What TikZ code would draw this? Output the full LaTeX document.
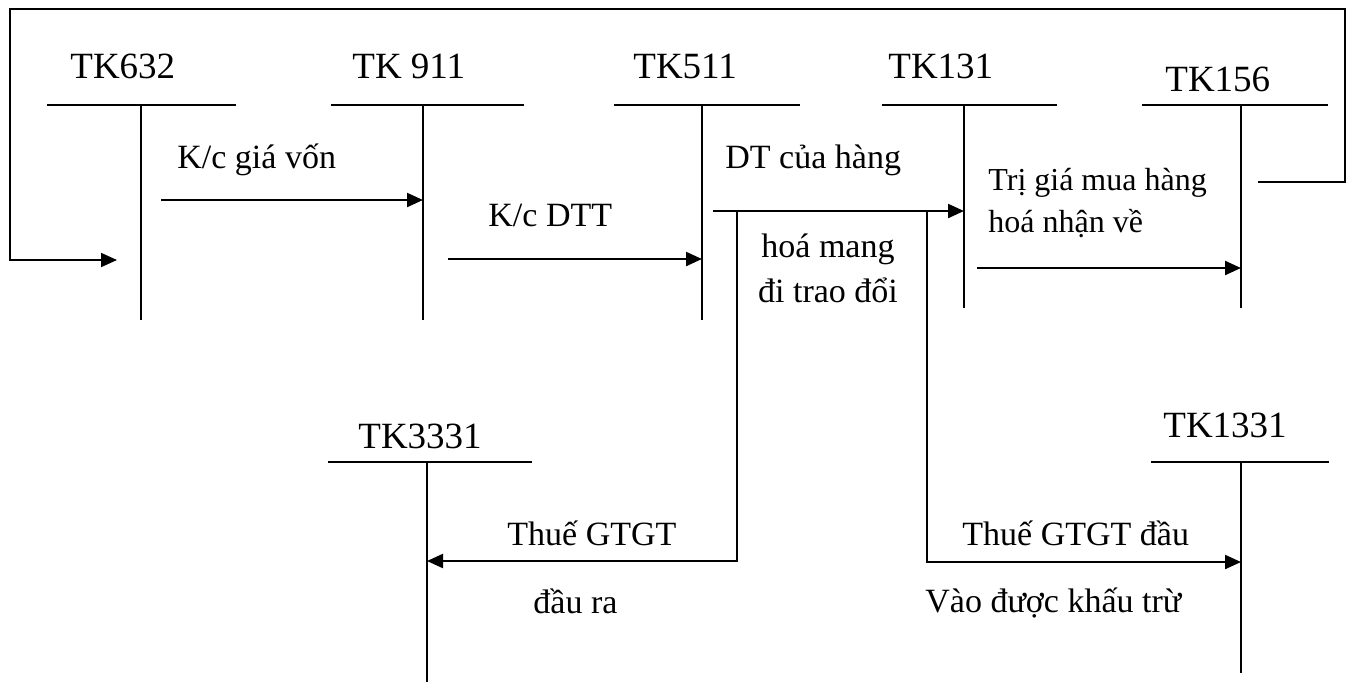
\documentclass[tikz,border=0pt]{standalone}
\usepackage{fontspec}
\setmainfont{Liberation Serif}
\usetikzlibrary{arrows.meta}

\tikzset{
  acct/.style={anchor=base west, inner sep=0pt, font=\fontsize{18.5}{22}\selectfont},
  note/.style={anchor=base west, inner sep=0pt, font=\fontsize{17}{20}\selectfont},
  tline/.style={line width=0.85pt},
  flow/.style={line width=1.1pt, -{Triangle[length=8pt,width=7pt]}}
}

\begin{document}
\begin{tikzpicture}[x=0.5pt,y=-0.5pt]
  \useasboundingbox (0,0) rectangle (1354,682);

  % account headings
  \node [acct] (n632)  at (70,78)   {TK632};
  \node [acct] (n911)  at (352,78)  {TK 911};
  \node [acct] (n511)  at (633,78)  {TK511};
  \node [acct] (n131)  at (888,78)  {TK131};
  \node [acct] (n156)  at (1165,91) {TK156};
  \node [acct] (n3331) at (358,448) {TK3331};
  \node [acct] (n1331) at (1163,437) {TK1331};

  % T shapes
  \coordinate (j632) at (141,105);  \coordinate (e632) at (141,320);
  \draw [tline] (47,105) -- (236,105) (j632) -- (e632);
  \coordinate (j911) at (423,105);  \coordinate (e911) at (423,320);
  \draw [tline] (331,105) -- (524,105) (j911) -- (e911);
  \coordinate (j511) at (702,105);  \coordinate (e511) at (702,320);
  \draw [tline] (614,105) -- (800,105) (j511) -- (e511);
  \coordinate (j131) at (964,105);  \coordinate (e131) at (964,308);
  \draw [tline] (882,105) -- (1057,105) (j131) -- (e131);
  \coordinate (j156) at (1241,105); \coordinate (e156) at (1241,308);
  \draw [tline] (1142,105) -- (1328,105) (j156) -- (e156);
  \coordinate (j3331) at (427,462); \coordinate (e3331) at (427,682);
  \draw [tline] (328,462) -- (532,462) (j3331) -- (e3331);
  \coordinate (j1331) at (1241,462); \coordinate (e1331) at (1241,673);
  \draw [tline] (1151,462) -- (1329,462) (j1331) -- (e1331);

  % entries
  \coordinate (ret) at (1258,182);
  \coordinate (in632) at (117,260);
  \draw [flow, line width=0.9pt] (ret) -| (1345,9) -| (10,260) -- (in632);

  \coordinate (s1) at (161,200);
  \draw [flow] (s1) -- (s1 -| j911);
  \node [note] (t1) at (177,168) {K/c giá vốn};

  \coordinate (s2) at (448,259);
  \draw [flow] (s2) -- (s2 -| j511);
  \node [note] (t2) at (488,226) {K/c DTT};

  \coordinate (s3) at (713,211);
  \draw [flow] (s3) -- (s3 -| j131);
  \node [note] (t3) at (725,168) {DT của hàng};
  \node [note, anchor=base] (t3b) at (828,257) {hoá mang};
  \node [note, anchor=base] (t3c) at (828,302) {đi trao đổi};

  \coordinate (b1) at (737,211); \coordinate (k1) at (737,561);
  \draw [flow] (b1) -- (k1) -- (k1 -| j3331);
  \node [note] (t4) at (507,545) {Thuế GTGT};
  \node [note] (t4b) at (533,613) {đầu ra};

  \coordinate (b2) at (927,211); \coordinate (k2) at (927,562);
  \draw [flow] (b2) -- (k2) -- (k2 -| j1331);
  \node [note] (t5) at (962,545) {Thuế GTGT đầu};
  \node [note] (t5b) at (925,612) {Vào được khấu trừ};

  \coordinate (s4) at (977,268);
  \draw [flow] (s4) -- (s4 -| j156);
  \node [note, font=\fontsize{16}{20}\selectfont] (t6) at (988,190) {Trị giá mua hàng};
  \node [note, font=\fontsize{16}{20}\selectfont] (t6b) at (988,232) {hoá nhận về};
\end{tikzpicture}
\end{document}
